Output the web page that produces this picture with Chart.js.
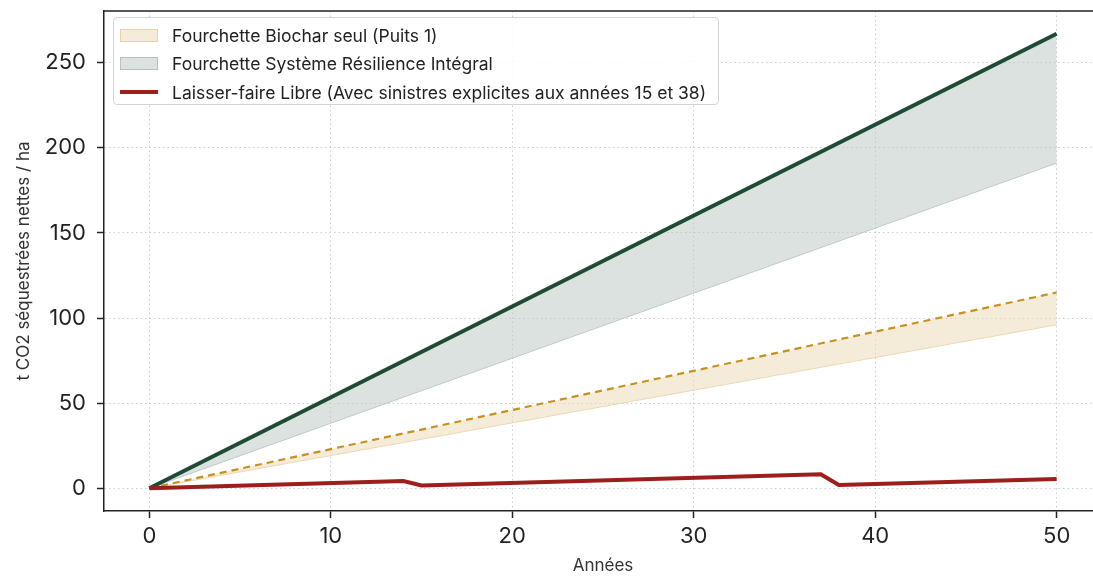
<!DOCTYPE html>
<html>
<head>
<meta charset="utf-8">
<script src="https://cdn.jsdelivr.net/npm/chart.js@4.4.1/dist/chart.umd.min.js"></script>
<style>
  html, body { margin: 0; padding: 0; background: #fff; overflow: hidden; width: 1093px; height: 579px; }
  #wrap { position: relative; width: 1110px; height: 579px; }
  #legend {
    position: absolute; left: 113px; top: 17px; width: 606px; height: 88px;
    border: 1px solid #d4d4d4; border-radius: 4px; background: rgba(255,255,255,0.85);
    font-family: "Inter", "Roboto", sans-serif; font-size: 17.5px; color: #222;
    box-sizing: border-box; padding-top: 3px;
  }
  .item { display: flex; align-items: center; height: 28.5px; }
  .sw { width: 38px; height: 13px; margin-left: 6px; margin-right: 14px; box-sizing: border-box; flex: none; }
</style>
</head>
<body>
<div id="wrap">
  <canvas id="c" width="1110" height="579"></canvas>
  <div id="legend"></div>
</div>
<script>
// ---- data ----
const bandYears = [0, 50];
const biocharHigh = [0, 115];
const biocharLow = [0, 96];
const systemHigh = [0, 267];
const systemLow = [0, 191];
const laisserYears = [0, 14, 15, 37, 38, 50];
const laisserValues = [0, 4.3, 1.7, 8.2, 1.9, 5.5];
const xTicks = [0, 10, 20, 30, 40, 50];
const yTicks = [0, 50, 100, 150, 200, 250];
const legendLabels = [
  "Fourchette Biochar seul (Puits 1)",
  "Fourchette Système Résilience Intégral",
  "Laisser-faire Libre (Avec sinistres explicites aux années 15 et 38)"
];
const xTitle = "Années";
const yTitle = "t CO2 séquestrées nettes / ha";

const pts = (xs, ys) => xs.map((x, i) => ({ x: x, y: ys[i] }));

const GREEN = "#1f4b36";
const GREEN_FILL = "rgba(190,203,199,0.55)";
const GOLD = "#c4921f";
const GOLD_FILL = "rgba(236,219,186,0.55)";
const RED = "#9c1f1c";

const frame = {
  id: "frame",
  afterDraw(chart) {
    const { ctx, chartArea: a } = chart;
    ctx.save();
    ctx.strokeStyle = "#222";
    ctx.lineWidth = 1.5;
    ctx.beginPath();
    ctx.moveTo(a.left, a.top);
    ctx.lineTo(a.right + 20, a.top);
    ctx.stroke();
    ctx.restore();
  }
};

const font = "'Inter', 'Roboto', sans-serif";
const gridOpts = { color: "#cdcdcd", lineWidth: 1, tickColor: "#222", tickLength: 7, tickWidth: 1.5, tickBorderDash: [] };
const borderOpts = { color: "#222", width: 1.5, dash: [1.5, 3] };

new Chart(document.getElementById("c"), {
  type: "line",
  data: {
    datasets: [
      { label: legendLabels[2], data: pts(laisserYears, laisserValues), borderColor: RED, borderWidth: 4, pointRadius: 0, fill: false, tension: 0 },
      { label: "sys-high", data: pts(bandYears, systemHigh), borderColor: GREEN, borderWidth: 4, pointRadius: 0, fill: { target: 2 }, backgroundColor: GREEN_FILL },
      { label: "sys-low", data: pts(bandYears, systemLow), borderColor: "rgba(175,190,186,0.8)", borderWidth: 1, pointRadius: 0, fill: false },
      { label: "bio-high", data: pts(bandYears, biocharHigh), borderColor: GOLD, borderWidth: 2.2, borderDash: [7, 5], pointRadius: 0, fill: { target: 4 }, backgroundColor: GOLD_FILL },
      { label: "bio-low", data: pts(bandYears, biocharLow), borderColor: "rgba(230,205,160,0.8)", borderWidth: 1, pointRadius: 0, fill: false }
    ]
  },
  options: {
    responsive: false,
    animation: false,
    layout: { padding: { top: 11, right: 8, left: 0, bottom: 0 } },
    plugins: { legend: { display: false }, tooltip: { enabled: false } },
    scales: {
      x: {
        type: "linear", min: -2.5, max: 52.5,
        afterBuildTicks: (ax) => { ax.ticks = xTicks.map(v => ({ value: v })); },
        afterFit: (ax) => { ax.height = 68; ax.paddingLeft = 0; ax.paddingRight = 0; },
        grid: gridOpts,
        border: borderOpts,
        ticks: { font: { family: font, size: 22 }, color: "#222", padding: 5, maxRotation: 0 },
        title: { display: true, text: xTitle, font: { family: font, size: 17 }, color: "#333", padding: { top: 0, bottom: 3 } }
      },
      y: {
        type: "linear", min: -13.35, max: 280.35,
        afterBuildTicks: (ax) => { ax.ticks = yTicks.map(v => ({ value: v })); },
        afterFit: (ax) => { ax.width = 104; ax.paddingTop = 0; ax.paddingBottom = 0; },
        grid: gridOpts,
        border: borderOpts,
        ticks: { font: { family: font, size: 22 }, color: "#222", padding: 11 },
        title: { display: true, text: yTitle, font: { family: font, size: 17 }, color: "#333", padding: { top: 14, bottom: 0 } }
      }
    }
  },
  plugins: [frame]
});

// HTML legend built from the labels
const legendItems = [
  { label: legendLabels[0], style: "background:" + GOLD_FILL + ";border:1px solid rgba(225,200,150,0.7);" },
  { label: legendLabels[1], style: "background:" + GREEN_FILL + ";border:1px solid rgba(170,185,180,0.8);" },
  { label: legendLabels[2], style: "height:4px;background:" + RED + ";" }
];
const lg = document.getElementById("legend");
legendItems.forEach(it => {
  const d = document.createElement("div");
  d.className = "item";
  d.innerHTML = '<div class="sw" style="' + it.style + '"></div><span>' + it.label + '</span>';
  lg.appendChild(d);
});
</script>
</body>
</html>
